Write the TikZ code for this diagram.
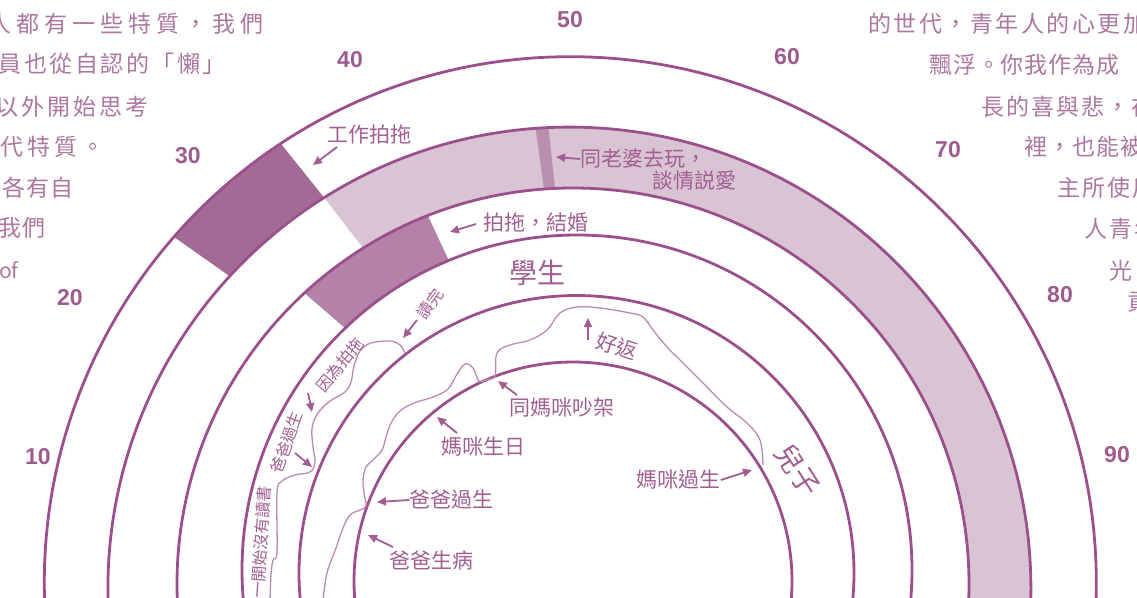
\documentclass[tikz,border=0pt]{standalone}
\usepackage{fontspec}
\setmainfont{Noto Sans CJK TC}
\newfontfamily\cifras{Liberation Sans}
\newcommand{\espaciado}[2]{{\addfontfeature{LetterSpace=#1}#2}}
\usetikzlibrary{arrows.meta, calc}
\definecolor{linea}{HTML}{9C4F8D}
\definecolor{oscuro}{HTML}{A26A94}
\definecolor{medio}{HTML}{B482A8}
\definecolor{claro}{HTML}{D9C4D3}
\definecolor{franja}{HTML}{B98FB0}
\definecolor{ondas}{HTML}{BA8BB1}
\definecolor{texto}{HTML}{A25E92}
\definecolor{numero}{HTML}{9E5B8F}
\definecolor{parra}{HTML}{AC77A0}
\tikzstyle{anillo} = [draw=linea, line width=2.8pt]
\tikzstyle{vida} = [draw=ondas, line width=1.3pt]
\tikzstyle{flecha} = [draw=texto, line width=1.8pt, -{Triangle[length=9pt, width=8pt]}]
\tikzstyle{etiqueta} = [text=texto, inner sep=0pt, font=\fontsize{21}{21}\selectfont]
\tikzstyle{chica} = [text=texto, inner sep=0pt, font=\fontsize{16}{16}\selectfont]
\tikzstyle{grande} = [text=texto, inner sep=0pt, font=\fontsize{28}{28}\selectfont]
\tikzstyle{edad} = [text=numero, inner sep=0pt, font=\cifras\bfseries\fontsize{23}{23}\selectfont]
\tikzstyle{parrafo} = [text=parra, inner sep=0pt, anchor=west, font=\fontsize{23}{23}\selectfont]

\begin{document}
\begin{tikzpicture}[x=1pt, y=-1pt]
	\useasboundingbox (0,0) rectangle (1137,597);
	\clip (0,0) rectangle (1137,597);
	\coordinate (c1) at (570.3,582.7);
	\coordinate (c2) at (569.4,588.6);
	\coordinate (c3) at (573,584);
	\coordinate (c4) at (577,570);
	\coordinate (c5) at (576.5,573);
	\coordinate (c6) at (573,581);

	\fill[oscuro] ($(c1)+(-123.4:526)$) arc[start angle=-123.4, end angle=-138.9, radius=526] -- ($(c2)+(-137.4:461.5)$) arc[start angle=-137.4, end angle=-122.1, radius=461.5] -- cycle;
	\fill[claro] ($(c2)+(-122.1:461.5)$) arc[start angle=-122.1, end angle=5, radius=461.5] -- ($(c3)+(5:396)$) arc[start angle=5, end angle=-122, radius=396] -- cycle;
	\fill[franja] ($(c2)+(-92.6:461.5)$) arc[start angle=-92.6, end angle=-94.2, radius=461.5] -- ($(c3)+(-94.2:396)$) arc[start angle=-94.2, end angle=-92.6, radius=396] -- cycle;
	\fill[medio] ($(c3)+(-111.5:396)$) arc[start angle=-111.5, end angle=-132.7, radius=396] -- ($(c4)+(-133.8:335)$) arc[start angle=-133.8, end angle=-112.5, radius=335] -- cycle;

	\foreach \c/\r in {c1/526, c2/461.5, c3/396, c4/335, c5/277.5, c6/219}
		\draw[anillo] (\c) circle[radius=\r];

	\draw[vida] plot[smooth, tension=0.6] coordinates {(270,600) (271,575) (273,560) (277,552) (277,493) (282,481) (295,475) (310,472) (315,462) (313,447) (312,428) (318,413) (330,401) (345,392) (351,382) (354,366) (360,351) (371,343) (390,341) (400,345) (405,353)};
	\draw[vida] plot[smooth, tension=0.6] coordinates {(323,600) (327,573) (336,548) (343,528) (350,515) (360,510) (366,506) (364,493) (363,480) (366,467) (373,460) (382,450) (386,437) (391,423) (400,411) (414,403) (433,397) (448,389) (457,374) (465,364) (473,368) (479,381) (488,379) (495,376) (497,353) (510,345) (530,340) (547,330) (560,313) (577,307) (600,308) (630,313) (643,317) (653,330) (667,347) (680,360) (700,380) (727,407) (747,423) (760,440) (763,465)};

	\node[edad] (e10) at (38,457) {10};
	\node[edad] (e20) at (70,298) {20};
	\node[edad] (e30) at (188,156) {30};
	\node[edad] (e40) at (350,60) {40};
	\node[edad] (e50) at (570,20) {50};
	\node[edad] (e60) at (787,57) {60};
	\node[edad] (e70) at (948,150) {70};
	\node[edad] (e80) at (1060,295) {80};
	\node[edad] (e90) at (1117,455) {90};

	\node[parrafo] (iz1) at (-12,24) {\espaciado{22}{人都有一些特質，我們}};
	\node[parrafo] (iz2) at (-1.5,64) {\espaciado{11}{員也從自認的「懶」}};
	\node[parrafo] (iz3) at (-5,107) {\espaciado{13}{以外開始思考}};
	\node[parrafo] (iz4) at (0,147) {\espaciado{18}{代特質。}};
	\node[parrafo] (iz5) at (2.5,188) {\espaciado{3}{各有自}};
	\node[parrafo] (iz6) at (-1.5,228) {\espaciado{4}{我們}};
	\node[parrafo, font=\fontsize{21}{21}\selectfont] (iz7) at (-1,270) {of};
	\node[parrafo] (de1) at (868,24) {\espaciado{11}{的世代，青年人的心更加}};
	\node[parrafo] (de2) at (929,65) {\espaciado{4}{飄浮。你我作為成}};
	\node[parrafo] (de3) at (981,107) {\espaciado{9}{長的喜與悲，在}};
	\node[parrafo] (de4) at (1024,147) {\espaciado{5}{裡，也能被}};
	\node[parrafo] (de5) at (1057,188) {\espaciado{9}{主所使用}};
	\node[parrafo] (de6) at (1084,229) {\espaciado{9}{人青年}};
	\node[parrafo] (de7) at (1109,271) {光};
	\node[parrafo] (de8) at (1127,302) {貢};

	\node[etiqueta] (trabajo) at (369,134.5) {工作拍拖};
	\coordinate (trabajo1) at (337,147);
	\coordinate (trabajo2) at (313,165);
	\draw[flecha] (trabajo1) -- (trabajo2);
	\node[etiqueta, anchor=west] (esposa) at (580,159) {同老婆去玩，};
	\node[etiqueta] (amor) at (694,181) {談情説愛};
	\coordinate (esposa2) at (556,157);
	\draw[flecha] (esposa.west) -- (esposa2);
	\node[etiqueta] (boda) at (535.5,222.5) {拍拖，結婚};
	\coordinate (boda1) at (476,224);
	\coordinate (boda2) at (450,232);
	\draw[flecha] (boda1) -- (boda2);
	\node[grande] (alumno) at (537.5,272.5) {學生};
	\node[grande, rotate=-57] (hijo) at (798,470) {兒子};

	\node[chica, rotate=86] (inicio) at (261,542) {一開始沒有讀書};
	\node[chica, rotate=71] (papa1) at (286.5,442.5) {爸爸過生};
	\coordinate (papa1a) at (295,453);
	\coordinate (papa1b) at (312,467);
	\draw[flecha] (papa1a) -- (papa1b);
	\node[chica, rotate=50] (novia) at (340,365) {因為拍拖};
	\coordinate (novia1) at (308,393);
	\coordinate (novia2) at (312,412);
	\draw[flecha] (novia1) -- (novia2);
	\node[chica, rotate=55] (fin) at (430,304) {讀完};
	\coordinate (fin1) at (417,320);
	\coordinate (fin2) at (403,338);
	\draw[flecha] (fin1) -- (fin2);

	\node[etiqueta, rotate=-18] (bien) at (617,346) {好返};
	\coordinate (bien1) at (588,340);
	\coordinate (bien2) at (588,318);
	\draw[flecha] (bien1) -- (bien2);
	\node[etiqueta] (pelea) at (561.5,408) {同媽咪吵架};
	\coordinate (pelea1) at (517,395);
	\coordinate (pelea2) at (498,381);
	\draw[flecha] (pelea1) -- (pelea2);
	\node[etiqueta] (cumple) at (483.5,447) {媽咪生日};
	\coordinate (cumple1) at (457,433);
	\coordinate (cumple2) at (437,417);
	\draw[flecha] (cumple1) -- (cumple2);
	\node[etiqueta] (papa2) at (451.5,500) {爸爸過生};
	\coordinate (papa2b) at (377,502);
	\draw[flecha] (papa2.west) -- (papa2b);
	\node[etiqueta] (enfermo) at (431.5,560) {爸爸生病};
	\coordinate (enfermo1) at (393,547);
	\coordinate (enfermo2) at (368,535);
	\draw[flecha] (enfermo1) -- (enfermo2);
	\node[etiqueta] (mama) at (678.5,480) {媽咪過生};
	\coordinate (mama2) at (752,470);
	\draw[flecha] (mama.east) -- (mama2);
\end{tikzpicture}
\end{document}
